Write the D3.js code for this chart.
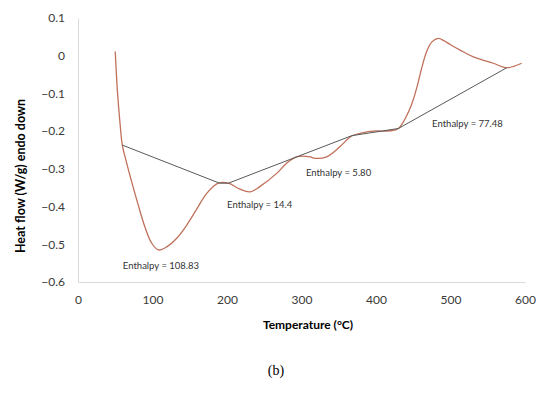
<!DOCTYPE html>
<meta charset="utf-8">
<style>
  html, body { margin: 0; padding: 0; background: #fff; }
  text { font-family: Lato, "Liberation Sans", sans-serif; }
</style>
<body>
<svg id="dsc" width="550" height="397"></svg>
<script src="https://cdn.jsdelivr.net/npm/d3@7"></script>
<script>
  // DSC trace
  var temp = [50, 52.8, 56.4, 59.5, 65, 72, 81, 90, 98.9, 107.8, 119, 132.5, 146, 159.3, 172.8, 188.3,
    201.8, 217.4, 230.9, 244, 266.7, 280, 293.5, 311.4, 318, 333.8, 351.7, 367.3, 383, 396.4, 418.8, 430,
    445.6, 454.6, 461.3, 468, 474.8, 483.6, 491, 500, 512.8, 530.6, 557.5, 575.4, 595.5];
  var heatFlow = [0.011, -0.091, -0.179, -0.237, -0.282, -0.334, -0.397, -0.455, -0.497, -0.515, -0.507, -0.484, -0.449, -0.407, -0.365, -0.338,
    -0.338, -0.354, -0.361, -0.347, -0.312, -0.285, -0.268, -0.268, -0.272, -0.268, -0.241, -0.213, -0.204, -0.2, -0.199, -0.193,
    -0.14, -0.086, -0.033, 0.011, 0.036, 0.046, 0.04, 0.029, 0.015, -0.003, -0.02, -0.032, -0.02];

  // integration baselines
  var baseTemp = [59.5, 190, 201.8, 367.5, 430, 575.4];
  var baseHF = [-0.237, -0.338, -0.338, -0.212, -0.193, -0.032];

  // enthalpy annotations
  var labels = ["Enthalpy = 108.83", "Enthalpy = 14.4", "Enthalpy = 5.80", "Enthalpy = 77.48"];
  var labelT = [111.4, 243.9, 349.7, 522.8];
  var labelHF = [-0.558, -0.396, -0.310, -0.179];

  var xTicks = [0, 100, 200, 300, 400, 500, 600];
  var yTicks = [0.1, 0, -0.1, -0.2, -0.3, -0.4, -0.5, -0.6];

  var svg = d3.select("#dsc");
  var x = d3.scaleLinear().domain([0, 600]).range([78, 525]);
  var y = d3.scaleLinear().domain([-0.6, 0.1]).range([282, 18]);

  // axes: light grey lines, no tick marks
  var xAxis = svg.append("g").attr("transform", "translate(0,282)")
    .call(d3.axisBottom(x).tickValues(xTicks).tickSize(0).tickPadding(13).tickFormat(d3.format("d")));
  var yAxis = svg.append("g").attr("transform", "translate(78,0)")
    .call(d3.axisLeft(y).tickValues(yTicks).tickSize(0).tickPadding(13)
      .tickFormat(function (d) { return d === 0 ? "0" : d3.format(".1f")(d).replace("-", "\u2212"); }));
  [xAxis, yAxis].forEach(function (a) {
    a.select(".domain").attr("stroke", "#d9d9d9").attr("stroke-width", 1);
    a.selectAll("text").attr("font-family", "Lato, sans-serif").attr("font-size", 12).attr("fill", "#3a3a3a");
  });

  var pts = temp.map(function (t, i) { return [t, heatFlow[i]]; });
  var line = d3.line().x(function (d) { return x(d[0]); }).y(function (d) { return y(d[1]); });

  svg.append("path")
    .attr("d", line.curve(d3.curveCatmullRom.alpha(0.5))(pts))
    .attr("fill", "none").attr("stroke", "#c0705a").attr("stroke-width", 1.3);

  var bpts = baseTemp.map(function (t, i) { return [t, baseHF[i]]; });
  svg.append("path")
    .attr("d", d3.line().x(function (d) { return x(d[0]); }).y(function (d) { return y(d[1]); })(bpts))
    .attr("fill", "none").attr("stroke", "#595959").attr("stroke-width", 1);

  svg.selectAll("text.ann").data(labels).enter().append("text")
    .attr("class", "ann")
    .attr("x", function (d, i) { return x(labelT[i]); })
    .attr("y", function (d, i) { return y(labelHF[i]); })
    .attr("dy", "0.35em")
    .attr("text-anchor", "middle")
    .attr("font-size", 9.5).attr("fill", "#333")
    .text(function (d) { return d; });

  svg.append("text")
    .attr("x", 308).attr("y", 325).attr("dy", "0.35em")
    .attr("text-anchor", "middle").attr("font-weight", "bold").attr("font-size", 12).attr("fill", "#000")
    .text("Temperature (°C)");

  svg.append("text")
    .attr("transform", "translate(21,176) rotate(-90)").attr("dy", "0.35em")
    .attr("text-anchor", "middle").attr("font-weight", "bold").attr("font-size", 12.5).attr("fill", "#000")
    .text("Heat flow (W/g) endo down");

  svg.append("text")
    .attr("x", 276).attr("y", 370).attr("dy", "0.35em")
    .attr("text-anchor", "middle").attr("font-size", 14).attr("fill", "#000")
    .style("font-family", "'Liberation Serif', serif")
    .text("(b)");
</script>
</body>
